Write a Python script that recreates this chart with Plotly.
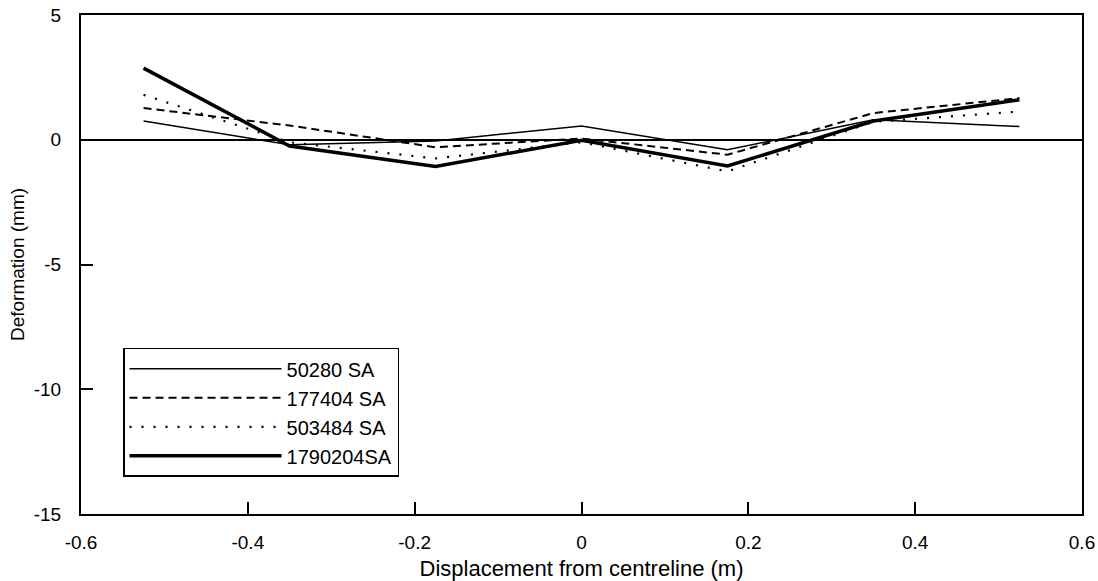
import plotly.graph_objects as go

x_disp = [-0.525, -0.35, -0.175, 0.0, 0.175, 0.35, 0.525]
s_50280 = [0.75, -0.2, -0.05, 0.55, -0.4, 0.8, 0.53]
s_177404 = [1.27, 0.57, -0.3, 0.05, -0.6, 1.07, 1.67]
s_503484 = [1.8, -0.1, -0.75, -0.1, -1.27, 0.72, 1.13]
s_1790204 = [2.87, -0.25, -1.07, -0.02, -1.05, 0.75, 1.6]

names = ["50280 SA", "177404 SA", "503484 SA", "1790204SA"]
series = [s_50280, s_177404, s_503484, s_1790204]
styles = [dict(width=1.5, dash="solid"),
          dict(width=2, dash="8px,5px"),
          dict(width=2.2, dash="2px,10px"),
          dict(width=3.5, dash="solid")]

fig = go.Figure()
for i, (n, s, st) in enumerate(zip(names, series, styles)):
    fig.add_trace(go.Scatter(x=x_disp, y=s, mode="lines", name=n,
                             legendgroup=str(i),
                             line=dict(color="black", **st)))

font = "Liberation Sans, Arial, sans-serif"
fig.update_layout(
    width=1098, height=581,
    margin=dict(l=81, r=16, t=15, b=67),
    paper_bgcolor="white", plot_bgcolor="white",
    font=dict(family=font, size=19, color="black"),
    showlegend=True,
    legend=dict(x=0.042, y=0.333, xanchor="left", yanchor="top",
                bordercolor="black", borderwidth=1.5, bgcolor="white",
                font=dict(size=20), tracegroupgap=0,
                itemwidth=152),
    xaxis=dict(range=[-0.6, 0.6], tickvals=[-0.6, -0.4, -0.2, 0, 0.2, 0.4, 0.6],
               ticktext=["-0.6", "-0.4", "-0.2", "0", "0.2", "0.4", "0.6"],
               ticks="inside", ticklen=12, tickwidth=1.5, tickcolor="black",
               showline=True, linecolor="black", linewidth=2, mirror=True,
               showgrid=False, zeroline=False, ticklabelstandoff=10,
               automargin=False, tickfont=dict(size=19),
               title=dict(text="Displacement from centreline (m)", font=dict(size=22), standoff=10)),
    yaxis=dict(range=[-15, 5], tickvals=[-15, -10, -5, 0, 5],
               ticktext=["-15", "-10", "-5", "0", "5"],
               ticks="inside", ticklen=12, tickwidth=1.5, tickcolor="black",
               showline=True, linecolor="black", linewidth=2, mirror=True,
               showgrid=False, zeroline=True, zerolinecolor="black", zerolinewidth=1.5,
               ticklabelstandoff=14, automargin=False, tickfont=dict(size=19),
               title=dict(text="Deformation (mm)", font=dict(size=19), standoff=4)),
)

fig.write_html("out.html")
